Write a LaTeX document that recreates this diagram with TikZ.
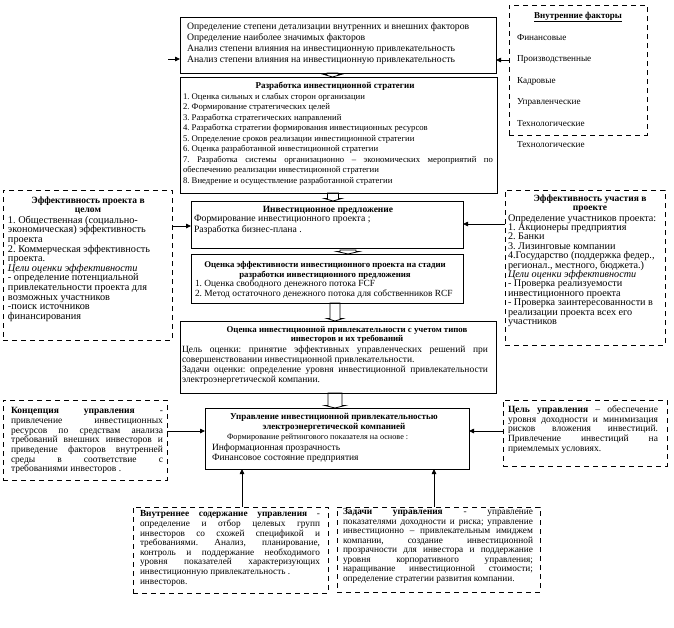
\documentclass[tikz,border=0pt]{standalone}
\usepackage{fontspec}
\setmainfont{Liberation Serif}
\usetikzlibrary{arrows.meta,fit,calc}
\frenchspacing
\newcommand{\fsz}[2]{\fontsize{#1pt}{#2pt}\selectfont\lineskiplimit=-20pt\relax}
\newcommand{\jl}[1]{\leavevmode\hbox to \hsize{\spaceskip=0pt\xspaceskip=0pt\relax #1}}
\newcommand{\blkarrow}[4]{% c, ytail, yhead, w
  \draw[blk] ({#1-#4},#2) -- ({#1-#4},{#3-2.5}) -- ({#1-#4-3},{#3-2.5}) -- (#1,#3)
     -- ({#1+#4+3},{#3-2.5}) -- ({#1+#4},{#3-2.5}) -- ({#1+#4},#2) -- cycle;}
\tikzset{
  box/.style={draw, line width=0.9pt, inner sep=0pt, outer sep=0pt},
  dbox/.style={draw, line width=0.9pt, dash pattern=on 5pt off 4pt, inner sep=0pt, outer sep=0pt},
  txt/.style={inner sep=0pt, outer sep=0pt, anchor=north west, align=left,
    execute at begin node={\spaceskip=\fontdimen2\font\xspaceskip=\fontdimen2\font\relax}},
  ctxt/.style={inner sep=0pt, outer sep=0pt, anchor=north, align=center,
    execute at begin node={\spaceskip=\fontdimen2\font\xspaceskip=\fontdimen2\font\relax}},
  conn/.style={line width=0.8pt, -{Triangle[length=5pt,width=4.5pt]}},
  blk/.style={line width=0.8pt},
}
\begin{document}
\frenchspacing
\begin{tikzpicture}[x=1pt,y=-1pt]
\useasboundingbox (0,0) rectangle (674,627);

% boxes
\node[box, fit={(180,17) (496,73)}] (topbox) {};
\node[box, fit={(180,77) (497,193)}] (strat) {};
\node[box, fit={(191,201) (463,248)}] (invest) {};
\node[box, fit={(191,254) (463,303)}] (estim) {};
\node[box, fit={(180,321) (496,393)}] (attr) {};
\node[box, fit={(205,408) (469,469)}] (mgmt) {};
\node[dbox, fit={(509,5) (647,135)}] (intf) {};
\node[dbox, fit={(3,190) (172,340)}] (effp) {};
\node[dbox, fit={(505,190) (665,345)}] (effu) {};
\node[dbox, fit={(3,400) (167,480)}] (conc) {};
\node[dbox, fit={(503,400) (667,466)}] (goal) {};
\node[dbox, fit={(133,507) (328,593)}] (inner) {};
\node[dbox, fit={(337,507) (540,592)}] (tasks) {};

% texts
\node[txt, text width=305pt, font=\fsz{9.7}{11}] (toptxt) at (187,22.5) {Определение степени детализации внутренних и внешних факторов\\Определение наиболее значимых факторов\\Анализ степени влияния на инвестиционную привлекательность\\Анализ степени влияния на инвестиционную привлекательность};

\node[ctxt, text width=300pt, font=\fsz{9}{10}\bfseries] (strattitle) at (335,82) {Разработка инвестиционной стратегии};
\node[txt, text width=310pt, font=\fsz{8.7}{10.5}] (strattxt) at (183,93) {1. Оценка сильных и слабых сторон организации\\2. Формирование стратегических целей\\3. Разработка стратегических направлений\\4. Разработка стратегии формирования инвестиционных ресурсов\\5. Определение сроков реализации инвестиционной стратегии\\6. Оценка разработанной инвестиционной стратегии\\\jl{7. Разработка системы организационно – экономических мероприятий по}\\обеспечению реализации инвестиционной стратегии\\8. Внедрение и осуществление разработанной стратегии};

\node[ctxt, text width=260pt, font=\fsz{9.5}{10}\bfseries] (invtitle) at (328,206) {Инвестиционное предложение};
\node[txt, text width=260pt, font=\fsz{9.7}{11}] (invtxt) at (194,215.5) {Формирование инвестиционного проекта ;\\Разработка бизнес-плана .};

\node[ctxt, text width=265pt, font=\fsz{8.8}{10}\bfseries] (esttitle) at (325,261) {Оценка эффективности инвестиционного проекта на стадии\\разработки инвестиционного предложения};
\node[txt, text width=265pt, font=\fsz{9.4}{10}] (esttxt) at (195,279.7) {1. Оценка свободного денежного потока FCF\\2. Метод остаточного денежного потока для собственников RCF};

\node[ctxt, text width=300pt, font=\fsz{8.8}{9.5}\bfseries] (attrtitle) at (347,326) {Оценка инвестиционной привлекательности с учетом типов\\инвесторов и их требований};
\node[txt, text width=306pt, font=\fsz{9.5}{10}] (attrtxt) at (182,345.7) {\jl{Цель оценки: принятие эффективных управленческих решений при}\\совершенствовании инвестиционной привлекательности.\\\jl{Задачи оценки: определение уровня инвестиционной привлекательности}\\электроэнергетической компании.};

\node[ctxt, text width=260pt, font=\fsz{9}{10}\bfseries] (mgmttitle) at (334,413) {Управление инвестиционной привлекательностью\\электроэнергетической компанией};
\node[txt, text width=240pt, font=\fsz{8.2}{10}] (mgmtf) at (227,433.5) {Формирование рейтингового показателя на основе :};
\node[txt, text width=240pt, font=\fsz{9.5}{10.5}] (mgmttxt) at (212,443.8) {Информационная прозрачность\\Финансовое состояние предприятия};

\node[ctxt, text width=130pt, font=\fsz{9}{10}\bfseries] (intftitle) at (578,12) {\underline{Внутренние факторы}};
\node[txt, text width=125pt, font=\fsz{9.2}{21.5}] (intftxt) at (517,34) {Финансовые\\Производственные\\Кадровые\\Управленческие\\Технологические};
\node[txt, text width=125pt, font=\fsz{9.2}{10}] (extra) at (517,141) {Технологические};

\node[ctxt, text width=160pt, font=\fsz{9.5}{9.5}\bfseries] (effptitle) at (88,196.5) {Эффективность проекта в\\целом};
\node[txt, text width=162pt, font=\fsz{10.3}{9.6}] (effptxt) at (8,216) {1. Общественная (социально-\\экономическая) эффективность\\проекта\\2. Коммерческая эффективность\\проекта.\\{\itshape Цели оценки эффективности}\\- определение потенциальной\\привлекательности проекта для\\возможных участников\\-поиск источников\\финансирования};

\node[ctxt, text width=155pt, font=\fsz{9.5}{9.5}\bfseries] (effutitle) at (590,194.5) {Эффективность участия в\\проекте};
\node[txt, text width=155pt, font=\fsz{10.2}{9.4}] (effutxt) at (508,214.3) {Определение участников проекта:\\1. Акционеры предприятия\\2. Банки\\3. Лизинговые компании\\4.Государство (поддержка федер.,\\регионал., местного, бюджета.)\\{\itshape Цели оценки эффективности}\\- Проверка реализуемости\\инвестиционного проекта\\- Проверка заинтересованности в\\реализации проекта всех его\\участников};

\node[txt, text width=152pt, font=\fsz{9.5}{9.7}] (conctxt) at (11,407.5) {\jl{{\bfseries Концепция управления} -}\\\jl{привлечение инвестиционных}\\\jl{ресурсов по средствам анализа}\\\jl{требований внешних инвесторов и}\\\jl{приведение факторов внутренней}\\\jl{среды в соответствие с}\\требованиями инвесторов .};

\node[txt, text width=150pt, font=\fsz{9.5}{9.7}] (goaltxt) at (508,405.5) {\jl{{\bfseries Цель управления} – обеспечение}\\\jl{уровня доходности и минимизация}\\\jl{рисков вложения инвестиций.}\\\jl{Привлечение инвестиций на}\\приемлемых условиях.};

\node[txt, text width=180pt, font=\fsz{9.3}{9.6}] (innertxt) at (140,510.8) {\jl{{\bfseries Внутреннее содержание управления} -}\\\jl{определение и отбор целевых групп}\\\jl{инвесторов со схожей спецификой и}\\\jl{требованиями. Анализ, планирование,}\\\jl{контроль и поддержание необходимого}\\\jl{уровня показателей характеризующих}\\инвестиционную привлекательность .\\инвесторов.};

\node[txt, text width=190pt, font=\fsz{9.3}{9.5}] (taskstxt) at (343,508.8) {\jl{{\bfseries Задачи управления} - управление}\\\jl{показателями доходности и риска; управление}\\\jl{инвестиционно – привлекательным имиджем}\\\jl{компании, создание инвестиционной}\\\jl{прозрачности для инвестора и поддержание}\\\jl{уровня корпоративного управления;}\\\jl{наращивание инвестиционной стоимости;}\\определение стратегии развития компании.};

% connectors
\coordinate (lfree) at (168,59);
\draw[conn] (lfree) -- (lfree -| topbox.west);
\draw[conn] (intf.west |- 0,60) -- (topbox.east |- 0,60);
\draw[conn] (effp.east |- 0,226) -- (invest.west |- 0,226);
\draw[conn] (effu.west |- 0,224) -- (invest.east |- 0,224);
\draw[conn] (conc.east |- 0,431) -- (mgmt.west |- 0,431);
\draw[conn] (goal.west |- 0,431) -- (mgmt.east |- 0,431);
\draw[conn] (inner.north -| 242,0) -- (mgmt.south -| 242,0);
\draw[conn] (tasks.north -| 434,0) -- (mgmt.south -| 434,0);

% block arrows between the central boxes
\blkarrow{332.5}{73}{77}{5.5}
\blkarrow{333}{193}{201}{5.5}
\blkarrow{348}{250}{254}{8}
\blkarrow{335}{303}{321}{5}
\blkarrow{335}{393}{408}{7}
\end{tikzpicture}
\end{document}
